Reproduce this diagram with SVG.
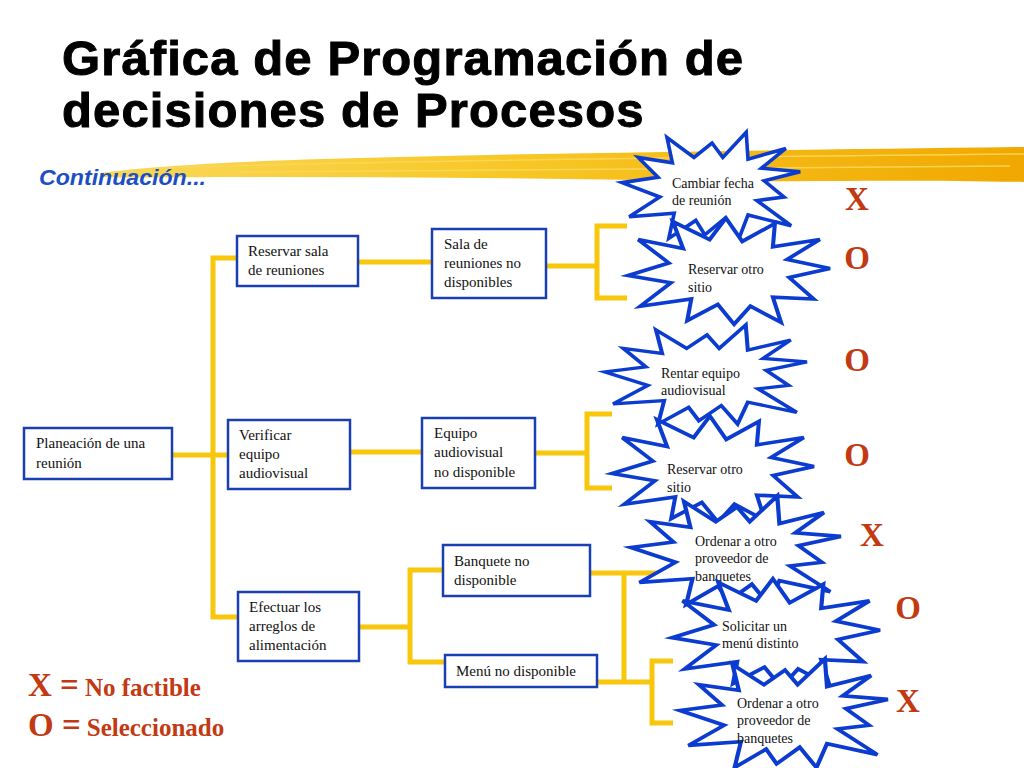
<svg xmlns="http://www.w3.org/2000/svg" xmlns:xlink="http://www.w3.org/1999/xlink" width="1024" height="768" viewBox="0 0 1024 768">
<style>
.title{font-family:"Liberation Sans",Arial,sans-serif;font-weight:bold;font-size:49px;letter-spacing:1.1px;fill:#000;stroke:#000;stroke-width:1}
.sub{font-family:"Liberation Sans",Arial,sans-serif;font-weight:bold;font-style:italic;font-size:22px;fill:#1c4fc4}
.box{fill:#fff;stroke:#1a3fb0;stroke-width:2.5}
.bt{font-family:"Liberation Serif","Times New Roman",serif;font-size:15px;fill:#111}
.st{font-family:"Liberation Serif","Times New Roman",serif;font-size:14px;fill:#111}
.burst{fill:#fff;stroke:#0b3ccf;stroke-width:4;stroke-linejoin:miter;vector-effect:non-scaling-stroke}
.conn{fill:none;stroke:#f8c70c;stroke-width:5;stroke-linejoin:miter}
.mark{font-family:"Liberation Serif","Times New Roman",serif;font-weight:bold;font-size:33px;fill:#c23a12}
.leg{font-family:"Liberation Serif","Times New Roman",serif;font-weight:bold;font-size:25px;fill:#c23a12}
.streak{fill:none;stroke:#fbd75a;stroke-width:1.5;opacity:0.9}
</style>
<defs>
<path id="burstA" d="M98,-18 L58,-8 L80,10 L50,14 L88,42 L40,30 L30,56 L14,34 L-8,52 L-18,36 L-48,56 L-42,28 L-92,32 L-58,10 L-100,-6 L-60,-12 L-82,-34 L-44,-28 L-50,-56 L-20,-34 L0,-50 L12,-34 L38,-62 L40,-32 L82,-44 L55,-22 Z"/>
<path id="burstB" d="M100,-4 L60,6 L84,30 L44,28 L52,56 L22,38 L6,58 L-10,36 L-40,54 L-36,30 L-86,38 L-56,12 L-98,4 L-58,-10 L-88,-36 L-44,-26 L-54,-56 L-18,-36 L-2,-60 L14,-34 L46,-54 L44,-28 L90,-36 L58,-14 Z"/>
<linearGradient id="brushG" x1="0" y1="0" x2="1" y2="0">
<stop offset="0" stop-color="#f9d858"/>
<stop offset="0.45" stop-color="#f7c726"/>
<stop offset="1" stop-color="#f1a800"/>
</linearGradient>
</defs>
<rect width="1024" height="768" fill="#fff"/>

<g id="brush">
<path d="M100,173 C160,165 260,160 400,157 C600,152 800,150 1024,147 L1024,182 C900,179 800,182 700,181 C550,178 400,177 250,177 C180,177 130,178 100,177 Z" fill="url(#brushG)"/>
<path class="streak" d="M160,168 C300,163 500,159 1024,154"/>
<path class="streak" d="M240,172 C450,169 700,167 1010,166"/>
</g>

<g id="title">
<text class="title" x="62" y="75">Gráfica de Programación de</text>
<text class="title" x="62" y="127">decisiones de Procesos</text>
<text class="sub" x="39" y="185" textLength="167" lengthAdjust="spacingAndGlyphs">Continuación...</text>
</g>

<g id="connectors">
<polyline class="conn" points="237,258 213,258 213,617 238,617"/>
<line class="conn" x1="172" y1="455" x2="228" y2="455"/>
<line class="conn" x1="358" y1="262" x2="432" y2="262"/>
<line class="conn" x1="350" y1="452" x2="422" y2="452"/>
<line class="conn" x1="546" y1="266" x2="597" y2="266"/>
<polyline class="conn" points="627,226 597,226 597,298 627,298"/>
<line class="conn" x1="535" y1="453" x2="587" y2="453"/>
<polyline class="conn" points="612,414 587,414 587,488 612,488"/>
<line class="conn" x1="359" y1="627" x2="410" y2="627"/>
<polyline class="conn" points="443,570 410,570 410,662 445,662"/>
<line class="conn" x1="590" y1="573" x2="660" y2="573"/>
<line class="conn" x1="624" y1="573" x2="624" y2="682"/>
<line class="conn" x1="597" y1="682" x2="652" y2="682"/>
<polyline class="conn" points="673,661 652,661 652,723 673,723"/>
</g>

<g id="n-planeacion">
<rect class="box" x="24" y="428" width="148" height="51"/>
<text class="bt" x="36" y="448">Planeación de una</text>
<text class="bt" x="36" y="468">reunión</text>
</g>
<g id="n-reservar-sala">
<rect class="box" x="237" y="236" width="121" height="50"/>
<text class="bt" x="248" y="256">Reservar sala</text>
<text class="bt" x="248" y="275">de reuniones</text>
</g>
<g id="n-verificar">
<rect class="box" x="228" y="420" width="122" height="69"/>
<text class="bt" x="239" y="440">Verificar</text>
<text class="bt" x="239" y="459">equipo</text>
<text class="bt" x="239" y="478">audiovisual</text>
</g>
<g id="n-efectuar">
<rect class="box" x="238" y="592" width="121" height="69"/>
<text class="bt" x="249" y="612">Efectuar los</text>
<text class="bt" x="249" y="631">arreglos de</text>
<text class="bt" x="249" y="650">alimentación</text>
</g>
<g id="n-sala">
<rect class="box" x="432" y="229" width="114" height="69"/>
<text class="bt" x="444" y="249">Sala de</text>
<text class="bt" x="444" y="268">reuniones no</text>
<text class="bt" x="444" y="287">disponibles</text>
</g>
<g id="n-equipo">
<rect class="box" x="422" y="418" width="113" height="70"/>
<text class="bt" x="434" y="438">Equipo</text>
<text class="bt" x="434" y="457">audiovisual</text>
<text class="bt" x="434" y="477">no disponible</text>
</g>
<g id="n-banquete">
<rect class="box" x="443" y="545" width="147" height="51"/>
<text class="bt" x="454" y="566">Banquete no</text>
<text class="bt" x="454" y="585">disponible</text>
</g>
<g id="n-menu">
<rect class="box" x="445" y="655" width="152" height="32"/>
<text class="bt" x="456" y="676">Menú no disponible</text>
</g>

<g id="b-cambiar">
<use xlink:href="#burstA" class="burst" transform="translate(712,188) scale(0.9,0.9)"/>
<text class="st" x="672" y="188">Cambiar fecha</text>
<text class="st" x="672" y="205">de reunión</text>
</g>
<g id="b-reservar1">
<use xlink:href="#burstB" class="burst" transform="translate(728,272) scale(1.02,0.9)"/>
<text class="st" x="688" y="274">Reservar otro</text>
<text class="st" x="688" y="292">sitio</text>
</g>
<g id="b-rentar">
<use xlink:href="#burstA" class="burst" transform="translate(707,377) scale(1.02,0.84)"/>
<text class="st" x="661" y="378">Rentar equipo</text>
<text class="st" x="661" y="395">audiovisual</text>
</g>
<g id="b-reservar2">
<use xlink:href="#burstB" class="burst" transform="translate(712,470) scale(1.02,0.9)"/>
<text class="st" x="667" y="474">Reservar otro</text>
<text class="st" x="667" y="492">sitio</text>
</g>
<g id="b-ordenar1">
<use xlink:href="#burstA" class="burst" transform="translate(737,553) scale(1.06,0.92)"/>
<text class="st" x="695" y="546">Ordenar a otro</text>
<text class="st" x="695" y="563">proveedor de</text>
<text class="st" x="695" y="581">banquetes</text>
</g>
<g id="b-solicitar">
<use xlink:href="#burstB" class="burst" transform="translate(775,634) scale(1.05,0.92)"/>
<text class="st" x="722" y="631">Solicitar un</text>
<text class="st" x="722" y="648">menú distinto</text>
</g>
<g id="b-ordenar2">
<use xlink:href="#burstA" class="burst" transform="translate(785,716) scale(1.05,0.92)"/>
<text class="st" x="737" y="708">Ordenar a otro</text>
<text class="st" x="737" y="725">proveedor de</text>
<text class="st" x="737" y="743">banquetes</text>
</g>

<g id="marks">
<text class="mark" x="857" y="210" text-anchor="middle">X</text>
<text class="mark" x="857" y="269" text-anchor="middle">O</text>
<text class="mark" x="857" y="371" text-anchor="middle">O</text>
<text class="mark" x="857" y="466" text-anchor="middle">O</text>
<text class="mark" x="872" y="546" text-anchor="middle">X</text>
<text class="mark" x="908" y="619" text-anchor="middle">O</text>
<text class="mark" x="908" y="712" text-anchor="middle">X</text>
</g>

<g id="legend">
<text x="28" y="696"><tspan class="mark" font-size="35">X =</tspan><tspan class="leg" dx="6">No factible</tspan></text>
<text x="28" y="736"><tspan class="mark" font-size="35">O =</tspan><tspan class="leg" dx="6">Seleccionado</tspan></text>
</g>
</svg>
